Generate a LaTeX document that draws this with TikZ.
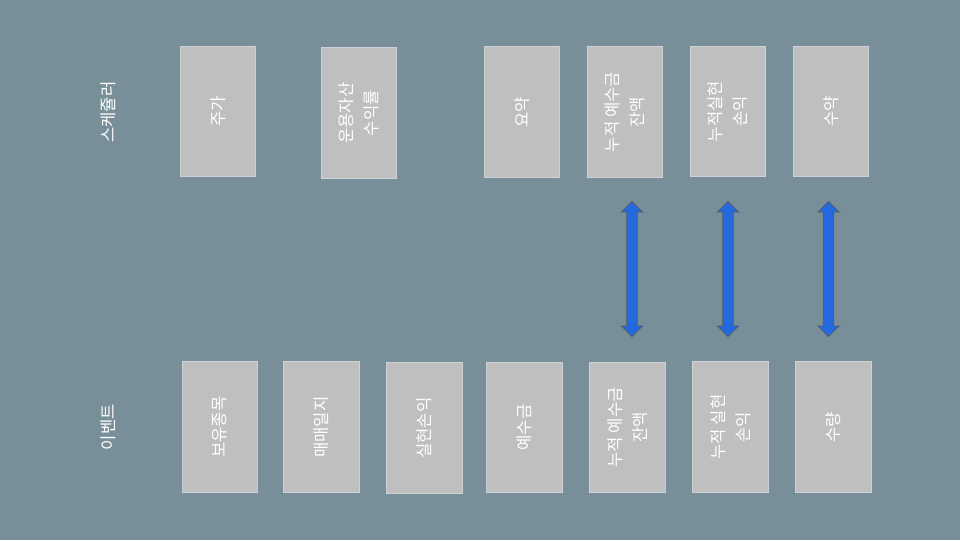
\documentclass[tikz,border=0pt]{standalone}
\usepackage{fontspec}
\setmainfont{Noto Sans CJK KR}
\usetikzlibrary{calc}

\definecolor{bgslate}{RGB}{120,142,153}
\definecolor{boxgray}{RGB}{191,191,191}
\definecolor{boxedge}{RGB}{205,210,214}
\definecolor{linkblue}{RGB}{36,105,224}
\definecolor{linkedge}{RGB}{88,94,102}

\tikzset{every picture/.style={line width=0.75pt}}
\tikzset{
  fieldbox/.style={draw=boxedge, fill=boxgray, line width=0.6pt, rotate=90,
    minimum width=98pt, minimum height=56.6pt, inner sep=0pt, align=center,
    text=white, font=\fontsize{12.5}{18.5}\selectfont},
  rowlabel/.style={rotate=90, text=white, inner sep=0pt, font=\fontsize{12.5}{15}\selectfont},
  linkarrow/.style={draw=linkedge, fill=linkblue, line width=0.6pt, line join=miter}
}

% double-headed link between two coordinates
\newcommand{\linkpair}[2]{%
  \draw[linkarrow] (#1) -- ($(#1)+(10.7,10.5)$) -- ($(#1)+(5.3,10.5)$)
    -- ($(#2)+(5.3,-10.5)$) -- ($(#2)+(10.7,-10.5)$) -- (#2)
    -- ($(#2)+(-10.7,-10.5)$) -- ($(#2)+(-5.3,-10.5)$)
    -- ($(#1)+(-5.3,10.5)$) -- ($(#1)+(-10.7,10.5)$) -- cycle;}

\begin{document}
\begin{tikzpicture}[x=0.75pt,y=0.75pt,yscale=-1,xscale=1]
\fill[bgslate] (0,0) rectangle (960,540);
\useasboundingbox (0,0) rectangle (960,540);

% Row labels
\node[rowlabel] (sched) at (108,112) {스케쥴러};
\node[rowlabel] (event) at (108,427) {이벤트};

% Scheduler row
\node[fieldbox] (s1) at (218,111.5) {주가};
\node[fieldbox] (s2) at (359,113) {운용자산\\수익률};
\node[fieldbox] (s3) at (522,112) {요약};
\node[fieldbox] (s4) at (625,112) {누적 예수금\\잔액};
\node[fieldbox] (s5) at (728,111.5) {누적실현\\손익};
\node[fieldbox] (s6) at (831,111.5) {수약};

% Event row
\node[fieldbox] (e1) at (220,427) {보유종목};
\node[fieldbox] (e2) at (321.5,427) {매매일지};
\node[fieldbox] (e3) at (424.5,428) {실현손익};
\node[fieldbox] (e4) at (524.5,427.5) {예수금};
\node[fieldbox] (e5) at (627.5,427.5) {누적 예수금\\잔액};
\node[fieldbox] (e6) at (730.5,427) {누적 실현\\손익};
\node[fieldbox] (e7) at (833.5,427) {수량};

% Links
\coordinate (l1a) at (632,201.5);  \coordinate (l1b) at (632,336.5);
\coordinate (l2a) at (728,201.5);  \coordinate (l2b) at (728,336.5);
\coordinate (l3a) at (828.5,201.5); \coordinate (l3b) at (828.5,336.5);
\linkpair{l1a}{l1b}
\linkpair{l2a}{l2b}
\linkpair{l3a}{l3b}

\end{tikzpicture}
\end{document}
